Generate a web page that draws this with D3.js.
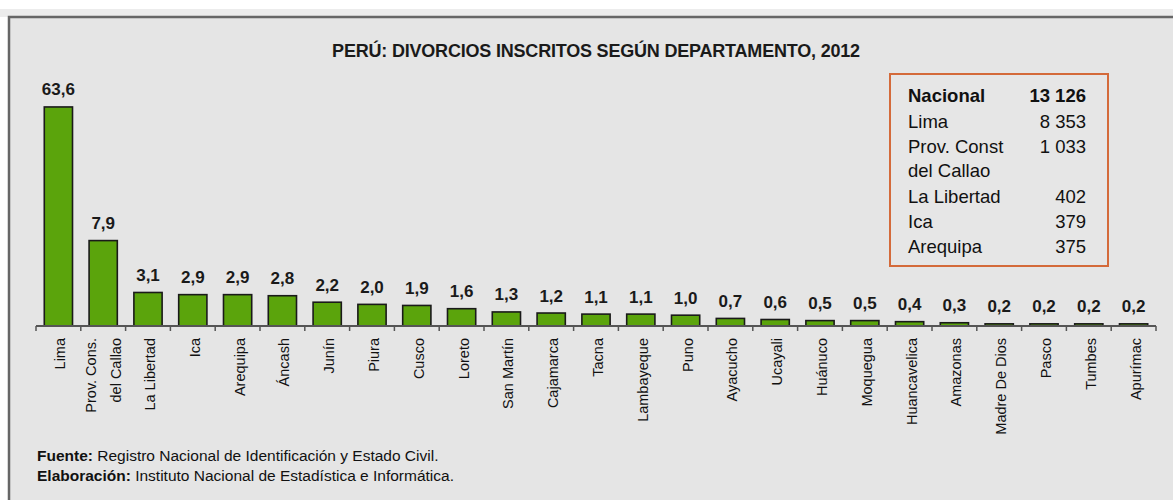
<!DOCTYPE html>
<html>
<head>
<meta charset="utf-8">
<script src="https://cdn.jsdelivr.net/npm/d3@7"></script>
<style>
  html, body { margin: 0; padding: 0; background: #ffffff; }
  svg { display: block; font-family: "Liberation Sans", Arial, sans-serif; }
</style>
</head>
<body>
<svg id="chart" width="1173" height="500"></svg>
<script>
// ---- data ----
const categories = ["Lima", "Prov. Cons.\ndel Callao", "La Libertad", "Ica", "Arequipa", "Áncash", "Junín", "Piura", "Cusco", "Loreto", "San Martín", "Cajamarca", "Tacna", "Lambayeque", "Puno", "Ayacucho", "Ucayali", "Huánuco", "Moquegua", "Huancavelica", "Amazonas", "Madre De Dios", "Pasco", "Tumbes", "Apurímac"];
const values = [63.6, 7.9, 3.1, 2.9, 2.9, 2.8, 2.2, 2.0, 1.9, 1.6, 1.3, 1.2, 1.1, 1.1, 1.0, 0.7, 0.6, 0.5, 0.5, 0.4, 0.3, 0.2, 0.2, 0.2, 0.2];
const legendLabels = ["Nacional", "Lima", "Prov. Const\ndel Callao", "La Libertad", "Ica", "Arequipa"];
const legendValues = ["13 126", "8 353", "1 033", "402", "379", "375"];
const titleText = "PERÚ: DIVORCIOS INSCRITOS SEGÚN DEPARTAMENTO, 2012";
const sourceLabel = "Fuente:";
const sourceText = " Registro Nacional de Identificación y Estado Civil.";
const madeLabel = "Elaboración:";
const madeText = " Instituto Nacional de Estadística e Informática.";

const fmt = v => d3.format(".1f")(v).replace(".", ",");

const svg = d3.select("#chart");

// background / frame
svg.append("rect").attr("x", 0).attr("y", 9).attr("width", 1173).attr("height", 8).attr("fill", "#ececec");
svg.append("rect").attr("x", 9).attr("y", 17).attr("width", 1300).attr("height", 600)
  .attr("fill", "#e5e5e5").attr("stroke", "#666").attr("stroke-width", 2.5);

// title
svg.append("text").attr("x", 596).attr("y", 57).attr("text-anchor", "middle")
  .attr("font-size", 18).attr("font-weight", "bold").attr("fill", "#1a1a1a")
  .attr("letter-spacing", -0.2)
  .text(titleText);

// scales
const baseY = 326;
const x = d3.scaleBand().domain(categories).range([36, 1156]).paddingInner(0.37).paddingOuter(0.185);
const y = d3.scaleLinear().domain([0, 8, 64]).range([baseY, 239.5, 106]);

// bars
svg.append("g").selectAll("rect").data(values).join("rect")
  .attr("x", (d, i) => x(categories[i]))
  .attr("y", d => y(d))
  .attr("width", x.bandwidth())
  .attr("height", d => baseY - y(d))
  .attr("fill", "#5ba40c").attr("stroke", "#1a1a1a").attr("stroke-width", 1.6);

// value labels
svg.append("g").selectAll("text").data(values).join("text")
  .attr("x", (d, i) => x(categories[i]) + x.bandwidth() / 2)
  .attr("y", d => y(d) - 11.5)
  .attr("text-anchor", "middle").attr("font-size", 17).attr("font-weight", "bold")
  .attr("fill", "#1a1a1a")
  .text(d => fmt(d));

// axis
const axisG = svg.append("g").attr("transform", `translate(0,${baseY})`);
axisG.append("line").attr("x1", 36).attr("x2", 1156).attr("y1", 0).attr("y2", 0)
  .attr("stroke", "#555").attr("stroke-width", 1.8);
const edges = categories.map(c => x(c) - x.step() * x.paddingInner() / 2).concat([1156]);
axisG.selectAll("line.tick").data(edges).join("line").attr("class", "tick")
  .attr("x1", d => d).attr("x2", d => d).attr("y1", 0).attr("y2", 5)
  .attr("stroke", "#555").attr("stroke-width", 1.5);

// category labels (rotated)
const catG = svg.append("g");
categories.forEach(c => {
  const cx = x(c) + x.bandwidth() / 2;
  const lines = c.split("\n");
  const offs = lines.length === 1 ? [7] : [-7.5, 17.5];
  lines.forEach((ln, j) => {
    catG.append("text")
      .attr("transform", `translate(${cx + offs[j]},338) rotate(-90)`)
      .attr("text-anchor", "end").attr("font-size", 14.5).attr("fill", "#111")
      .text(ln);
  });
});

// legend box
svg.append("rect").attr("x", 890).attr("y", 74).attr("width", 218).attr("height", 192)
  .attr("fill", "#e6e6e6").attr("stroke", "#d46a3a").attr("stroke-width", 2);
const legG = svg.append("g");
let lineIdx = 0;
legendLabels.forEach((lab, i) => {
  const bold = i === 0;
  const parts = lab.split("\n");
  const yBase = 102 + lineIdx * 24.6 + (i > 0 ? 1.5 : 0) + (lineIdx > 3 ? 1.5 : 0);
  parts.forEach((p, j) => {
    legG.append("text").attr("x", 908).attr("y", yBase + j * 24.6)
      .attr("font-size", 18.5).attr("font-weight", bold ? "bold" : "normal")
      .attr("fill", "#111").text(p);
  });
  legG.append("text").attr("x", 1086).attr("y", yBase).attr("text-anchor", "end")
    .attr("font-size", 18.5).attr("font-weight", bold ? "bold" : "normal")
    .attr("fill", "#111").text(legendValues[i]);
  lineIdx += parts.length;
});

// footer
const f1 = svg.append("text").attr("x", 37).attr("y", 461).attr("font-size", 15.5).attr("fill", "#111");
f1.append("tspan").attr("font-weight", "bold").text(sourceLabel);
f1.append("tspan").text(sourceText);
const f2 = svg.append("text").attr("x", 37).attr("y", 481).attr("font-size", 15.5).attr("fill", "#111");
f2.append("tspan").attr("font-weight", "bold").text(madeLabel);
f2.append("tspan").text(madeText);
</script>
</body>
</html>
